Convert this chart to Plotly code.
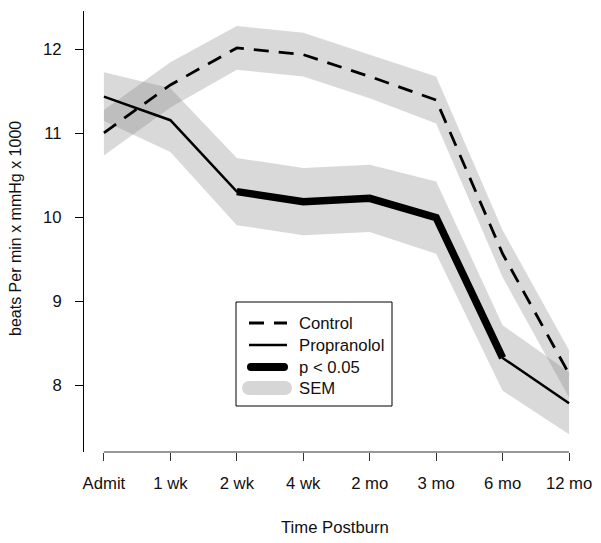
import plotly.graph_objects as go
import numpy as np

categories = ["Admit", "1 wk", "2 wk", "4 wk", "2 mo", "3 mo", "6 mo", "12 mo"]
control = [11.01, 11.58, 12.02, 11.94, 11.68, 11.40, 9.57, 8.14]
control_sem = [0.27, 0.27, 0.26, 0.26, 0.26, 0.28, 0.28, 0.28]
propranolol = [11.44, 11.16, 10.31, 10.19, 10.23, 10.00, 8.33, 7.79]
propranolol_sem = [0.29, 0.38, 0.40, 0.40, 0.40, 0.43, 0.39, 0.37]
significant = [False, False, True, True, True, True, True, False]
y_ticks = [8, 9, 10, 11, 12]

FONT = "Liberation Sans, Arial, sans-serif"
FS = 16.7

# page body has an 8px default margin; figure is placed at (8, 8)
OFF = 8
FIG_W, FIG_H = 601 - OFF, 543 - OFF

x = np.arange(len(categories))
fig = go.Figure()

band_color = "rgba(128,128,128,0.30)"
for vals, sem in [(control, control_sem), (propranolol, propranolol_sem)]:
    v = np.array(vals)
    s = np.array(sem)
    fig.add_trace(go.Scatter(
        x=np.concatenate([x, x[::-1]]),
        y=np.concatenate([v + s, (v - s)[::-1]]),
        fill="toself", fillcolor=band_color, line=dict(width=0),
        mode="lines", hoverinfo="skip", showlegend=False))

fig.add_trace(go.Scatter(x=x, y=control, mode="lines",
                         line=dict(color="black", width=2.8, dash="15px,10px"),
                         showlegend=False))
fig.add_trace(go.Scatter(x=x, y=propranolol, mode="lines",
                         line=dict(color="black", width=2.5),
                         showlegend=False))
thick = [v if s else None for v, s in zip(propranolol, significant)]
fig.add_trace(go.Scatter(x=x, y=thick, mode="lines",
                         line=dict(color="black", width=7.5),
                         connectgaps=False, showlegend=False))

# plot-area geometry (screen pixels of the target picture)
L, R, T, B = 84, 589, 11, 452
W, H = R - L, B - T
def px(v):
    return (v - L) / W
def py(v):
    return (B - v) / H

shapes = []
shapes.append(dict(type="line", xref="x", yref="paper", x0=x[0], x1=x[-1],
                   y0=0, y1=0, line=dict(color="#333", width=1)))
shapes.append(dict(type="rect", xref="paper", yref="paper",
                   x0=px(236), x1=px(392), y0=py(406), y1=py(302),
                   line=dict(color="black", width=1), fillcolor="white", layer="above"))
rows = [323, 345, 367, 388]
labels = ["Control", "Propranolol", "p < 0.05", "SEM"]
shapes.append(dict(type="line", xref="paper", yref="paper", x0=px(249), x1=px(287),
                   y0=py(rows[0]), y1=py(rows[0]),
                   line=dict(color="black", width=2.8, dash="15px,10px"), layer="above"))
shapes.append(dict(type="line", xref="paper", yref="paper", x0=px(249), x1=px(287),
                   y0=py(rows[1]), y1=py(rows[1]),
                   line=dict(color="black", width=2.5), layer="above"))
r = 4
shapes.append(dict(type="line", xref="paper", yref="paper", x0=px(251), x1=px(284),
                   y0=py(rows[2]), y1=py(rows[2]),
                   line=dict(color="black", width=2 * r), layer="above"))
for cx in (251, 284):
    shapes.append(dict(type="circle", xref="paper", yref="paper",
                       x0=px(cx - r), x1=px(cx + r), y0=py(rows[2] + r), y1=py(rows[2] - r),
                       fillcolor="black", line=dict(width=0), layer="above"))
r2 = 7
shapes.append(dict(type="rect", xref="paper", yref="paper", x0=px(249), x1=px(285),
                   y0=py(rows[3] + r2), y1=py(rows[3] - r2),
                   fillcolor="#d6d6d6", line=dict(width=0), layer="above"))
for cx in (249, 285):
    shapes.append(dict(type="circle", xref="paper", yref="paper",
                       x0=px(cx - r2), x1=px(cx + r2), y0=py(rows[3] + r2), y1=py(rows[3] - r2),
                       fillcolor="#d6d6d6", line=dict(width=0), layer="above"))

annotations = []
for yy, lab in zip(rows, labels):
    annotations.append(dict(xref="paper", yref="paper", x=px(297), y=py(yy),
                            xanchor="left", yanchor="middle", text=lab, showarrow=False,
                            font=dict(family=FONT, size=FS, color="#111")))
annotations.append(dict(xref="paper", yref="paper", x=px(335), y=py(527),
                        xanchor="center", yanchor="middle", text="Time Postburn",
                        showarrow=False, font=dict(family=FONT, size=FS, color="#111")))
annotations.append(dict(xref="paper", yref="paper", x=px(16), y=py(229),
                        xanchor="center", yanchor="middle", textangle=-90,
                        text="beats Per min x mmHg x 1000", showarrow=False,
                        font=dict(family=FONT, size=16, color="#111")))

fig.update_layout(
    width=FIG_W, height=FIG_H,
    margin=dict(l=L - OFF, r=601 - R, t=T - OFF, b=543 - B),
    paper_bgcolor="white", plot_bgcolor="white",
    shapes=shapes, annotations=annotations,
    font=dict(family=FONT, size=FS, color="#111"),
    xaxis=dict(range=[-0.3, 7.3], tickvals=x, ticktext=categories,
               showgrid=False, zeroline=False, showline=False,
               ticks="outside", ticklen=8, tickcolor="#333", tickwidth=1,
               ticklabelstandoff=8, tickfont=dict(family=FONT, size=FS, color="#111")),
    yaxis=dict(range=[7.21, 12.46], tickvals=y_ticks,
               showgrid=False, zeroline=False, showline=True, linecolor="black",
               linewidth=1, ticks="outside", ticklen=8, tickcolor="black", tickwidth=1,
               ticklabelstandoff=10, tickfont=dict(family=FONT, size=FS, color="#111")),
)

fig.write_html("out.html")
